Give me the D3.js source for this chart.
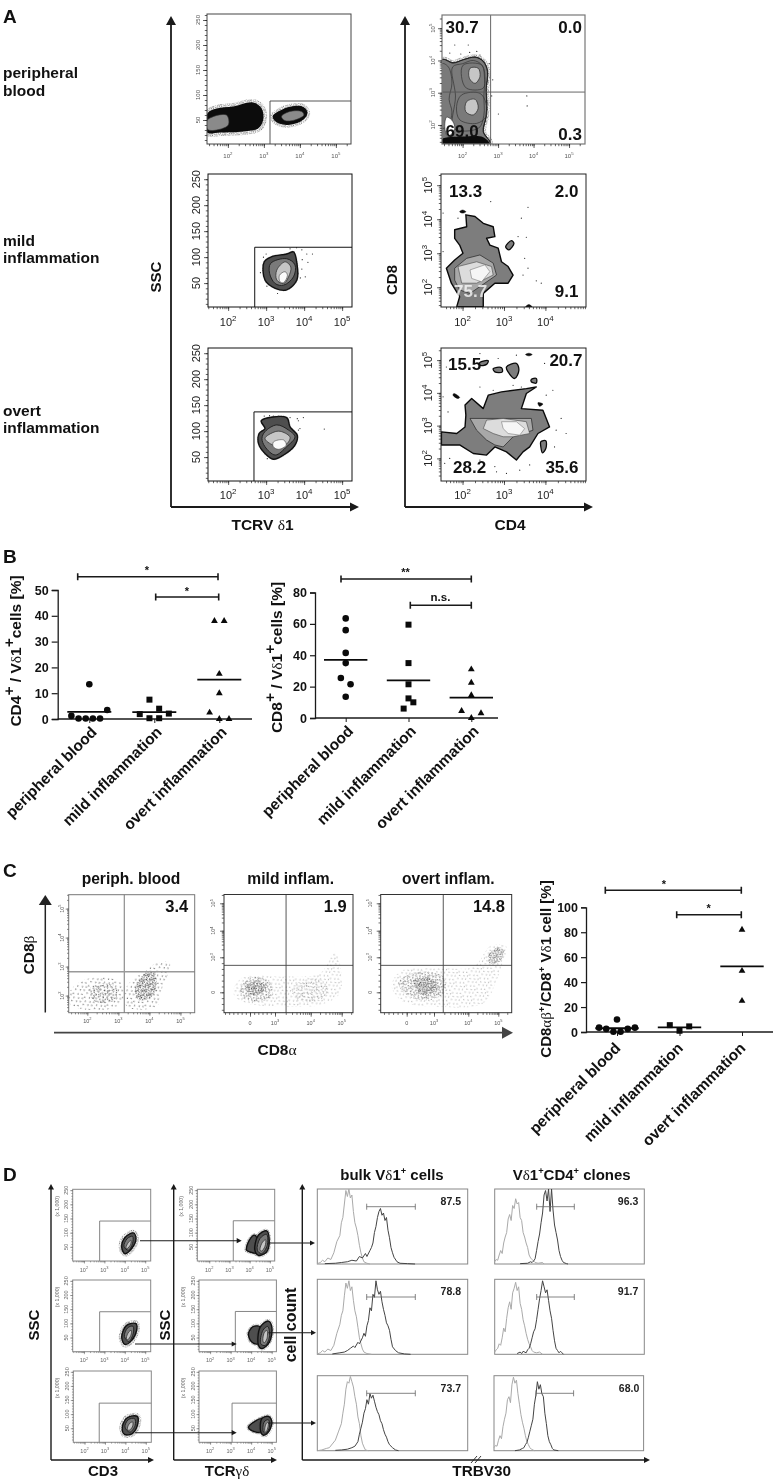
<!DOCTYPE html>
<html><head><meta charset="utf-8">
<script src="https://cdn.jsdelivr.net/npm/d3@7"></script>
<style>html,body{margin:0;padding:0;background:#fff}svg{display:block;filter:blur(.35px)}text{font-family:'Liberation Sans',Arial,sans-serif}</style>
</head><body><div id="chart"></div>
<script>
// ---------- dot-plot data (panels B and C). Each group is a list of rows; a row is drawn side by side.
const categories=['peripheral blood','mild inflammation','overt inflammation'];
const b1Peripheral=[[13.5],[1.2,0.2,0.2,0.2,0.2,3.5]];
const b1Mild=[[7.5,4],[1.9,0.3,0.3,2.1]];
const b1Overt=[[38,38],[17.5],[10],[2.5,0,0]];
const b1Means=[2.8,2.7,15.3];
const b2Peripheral=[[63.5],[56],[41.5],[35],[25.5,21.5],[13.5]];
const b2Mild=[[59.5],[35],[21.5],[12.5],[6,10]];
const b2Overt=[[31],[22.5],[14.5],[4.5,0,3]];
const b2Means=[37,24,13];
const cPeripheral=[[10],[3.5,2.5,0.2,0.2,2.5,3.5]];
const cMild=[[5.5,1,4.5]];
const cOvert=[[82],[49],[25]];
const cMeans=[3,3.7,52.7];
const b1Ticks=[0,10,20,30,40,50], b2Ticks=[0,20,40,60,80], cTicks=[0,20,40,60,80,100];

// ---------- flow cytometry percentages and region outlines
// x = log10 of fluorescence; y = SSC (linear) or log10 of fluorescence
const a4Pct=['30.7','0.0','69.0','0.3'], a5Pct=['13.3','2.0','75.7','9.1'], a6Pct=['15.5','20.7','28.2','35.6'];
const cPct=['3.4','1.9','14.8'];
const dBulkPct=['87.5','78.8','73.7'], dClonePct=['96.3','91.7','68.0'];

const a1Blob=[[1.43,63],[1.69,73],[2.15,77],[2.70,85],[2.94,73],[2.98,50],[2.84,33],[2.43,27],[1.78,25],[1.43,25]];
const a1BlobInner=[[1.43,50],[1.96,60],[2.01,40],[1.58,29],[1.43,32]];
const a1Gated=[[3.26,57],[3.44,67],[3.72,75],[4.09,75],[4.19,63],[4.05,50],[3.72,42],[3.40,45]];
const a1GatedInner=[[3.49,57],[3.72,67],[4.05,67],[4.11,60],[3.86,50],[3.58,49]];
const a2Outer=[[2.95,91],[3.15,101],[3.54,106],[3.72,110],[3.81,88],[3.81,56],[3.54,37],[3.24,40],[2.97,56]];
const a2Mid=[[3.12,88],[3.54,97],[3.76,85],[3.72,62],[3.46,46],[3.24,49],[3.09,69]];
const a2Light=[[3.28,75],[3.5,91],[3.65,81],[3.59,62],[3.46,49],[3.28,56]];
const a2Core=[[3.35,65],[3.5,72],[3.56,65],[3.46,51],[3.37,52]];
const a2Dots=[[2.93,100],[3.0,106],[3.63,116],[3.8,118],[3.94,114],[4.07,106],[4.22,106],[3.94,77],[4.03,62],[3.9,60],[3.3,30],[3.02,44],[2.85,70],[3.95,95],[4.1,90]];
const a3Outer=[[2.87,120],[3.54,126],[3.63,108],[3.82,92],[3.76,73],[3.46,54],[3.19,46],[2.97,57],[2.80,76],[2.82,96],[2.97,105]];
const a3Mid=[[2.97,99],[3.28,112],[3.59,102],[3.76,89],[3.54,70],[3.24,54],[2.97,70],[2.89,86]];
const a3Light=[[2.97,86],[3.24,99],[3.41,99],[3.63,88],[3.5,73],[3.19,73]];
const a3Core=[[3.19,79],[3.46,83],[3.53,73],[3.32,65],[3.19,70]];
const a3Dots=[[2.95,129],[3.09,130],[3.19,129],[3.32,129],[3.63,126],[3.82,124],[3.98,126],[3.85,120],[3.89,105],[3.85,102],[4.53,104],[3.03,47]];
const a4Outer=[[1.42,4.02],[1.73,3.92],[2.02,4.02],[2.35,4.10],[2.58,3.97],[2.70,3.66],[2.66,3.09],[2.68,2.67],[2.66,2.26],[2.58,1.79],[2.77,1.43],[1.42,1.43]];
const a4Inner=[[1.72,3.8],[2.0,3.9],[2.3,4.0],[2.55,3.85],[2.62,3.4],[2.6,2.9],[2.6,2.3],[2.45,1.9],[1.75,1.9],[1.8,2.9]];
const a4LeftBand=[[1.42,3.9],[1.6,3.8],[1.7,3.3],[1.62,2.8],[1.7,2.4],[1.6,2.0],[1.42,1.9]];
const a4UpperMid=[[2.02,3.86],[2.54,3.86],[2.63,3.50],[2.58,3.14],[2.11,3.14],[1.97,3.50]];
const a4UpperLight=[[2.21,3.76],[2.44,3.76],[2.49,3.50],[2.35,3.29],[2.19,3.45]];
const a4LowerMid=[[1.97,2.93],[2.49,2.98],[2.66,2.67],[2.66,2.26],[2.40,2.05],[1.92,2.16],[1.83,2.57]];
const a4LowerLight=[[2.11,2.72],[2.35,2.80],[2.44,2.52],[2.30,2.31],[2.09,2.41]];
const a4White=[[1.55,2.24],[1.69,2.16],[1.78,1.90],[1.59,1.64],[1.50,1.90]];
const a4Band=[[1.42,1.56],[2.02,1.64],[2.58,1.62],[2.75,1.43],[1.42,1.43]];
const a4Dots=[[1.78,4.48],[2.16,4.48],[1.64,4.23],[2.40,4.28],[2.49,4.17],[3.01,2.34],[3.81,2.90],[3.82,2.59],[1.95,4.2],[2.2,4.25],[2.75,3.9],[2.85,3.4],[2.82,2.9]];
const a5Outer=[[1.81,3.69],[2.10,3.78],[2.08,4.13],[2.30,4.08],[2.50,3.88],[2.74,3.78],[2.78,3.49],[2.58,3.44],[2.66,3.24],[2.86,3.15],[2.94,2.75],[3.10,2.61],[3.22,2.36],[3.10,2.12],[2.78,2.12],[2.50,1.82],[2.50,1.43],[1.86,1.43],[1.93,1.72],[1.73,2.12],[1.61,2.56],[1.81,2.80],[2.01,3.00],[1.93,3.24],[1.81,3.44]];
const a5Mid=[[1.81,2.56],[2.10,2.85],[2.42,2.95],[2.74,2.71],[2.82,2.36],[2.42,2.02],[2.18,1.82],[1.93,1.92],[1.81,2.21]];
const a5Light=[[1.89,2.61],[2.34,2.75],[2.70,2.61],[2.74,2.36],[2.34,2.12],[1.98,2.12]];
const a5Core=[[2.18,2.51],[2.54,2.66],[2.66,2.46],[2.46,2.16],[2.22,2.26]];
const a5Island1=[[1.93,4.22],[2.0,4.27],[2.08,4.22],[2.0,4.18]];
const a5Island2=[[3.04,3.19],[3.18,3.37],[3.24,3.29],[3.12,3.10]];
const a5Island3=[[3.52,1.42],[3.60,1.49],[3.68,1.42]];
const a5Dots=[[2.68,4.52],[3.58,4.35],[3.42,4.03],[3.34,3.49],[3.54,3.47],[3.50,2.85],[3.58,2.56],[3.46,2.36],[3.78,2.19],[3.90,2.12],[1.53,4.18],[1.89,4.03],[1.53,3.05]];
const a6Outer=[[2.06,3.63],[2.22,3.83],[2.50,3.52],[2.62,3.93],[2.94,4.03],[3.54,4.13],[3.78,4.18],[3.54,3.98],[3.42,3.52],[3.94,3.47],[4.02,3.22],[4.10,2.96],[3.82,2.76],[3.62,2.35],[3.46,2.20],[3.30,1.95],[3.06,2.20],[2.78,2.35],[2.58,2.10],[2.26,2.15],[1.93,2.41],[1.65,2.41],[1.49,2.41],[1.49,2.81],[1.86,2.76],[2.06,2.96],[2.08,3.32]];
const a6Mid=[[2.18,3.22],[2.94,3.22],[3.66,3.22],[3.70,2.86],[3.22,2.66],[2.98,2.35],[2.78,2.41],[2.58,2.56],[2.34,2.86]];
const a6Light=[[2.58,3.17],[2.98,3.22],[3.54,3.12],[3.62,2.76],[3.22,2.66],[2.98,2.66],[2.74,2.76],[2.50,2.91]];
const a6Core=[[2.94,3.12],[3.30,3.12],[3.50,2.91],[3.38,2.71],[3.10,2.76],[2.98,2.91]];
const a6Islands=[
 [[3.06,4.79],[3.30,4.90],[3.36,4.69],[3.26,4.44],[3.10,4.64]],
 [[2.74,4.74],[2.94,4.77],[2.96,4.64],[2.78,4.64]],
 [[2.42,4.93],[2.62,4.98],[2.58,4.87],[2.42,4.84]],
 [[3.66,4.41],[3.78,4.44],[3.78,4.30],[3.66,4.34]],
 [[3.89,2.51],[4.01,2.54],[4.01,2.30],[3.93,2.17],[3.89,2.35]]];
const a6DarkIslands=[
 [[3.52,5.17],[3.60,5.21],[3.68,5.17],[3.60,5.13]],
 [[1.79,3.98],[1.93,3.86],[1.88,3.83],[1.77,3.93]],
 [[3.82,3.70],[3.94,3.66],[3.86,3.59]]];
const a6Dots=[[1.53,3.88],[1.65,3.42],[1.93,5.05],[2.42,5.2],[2.86,5.05],[3.30,5.15],[3.98,4.9],[4.18,4.08],[4.02,3.93],[4.38,3.22],[3.22,4.23],[3.42,4.18],[2.74,4.08],[2.42,4.18],[1.61,4.79],[2.78,1.75],[2.82,1.59],[3.06,1.54],[3.38,1.64],[3.62,1.8],[1.57,1.85],[1.69,2.0],[2.42,1.95],[4.22,2.35],[4.26,2.86],[4.5,2.76]];

// panel C clouds (biexponential position units on mild / overt plots)
const c1CloudA=[[1.44,2.14],[1.76,2.48],[2.41,2.63],[3.05,2.48],[3.18,1.97],[2.84,1.57],[1.66,1.57],[1.42,1.74]];
const c1DenseA=[[2.09,2.26],[2.52,2.43],[2.95,2.26],[2.89,1.85],[2.41,1.74],[2.14,1.91]];
const c1CloudB=[[3.27,2.31],[3.81,2.83],[4.24,3.12],[4.65,3.14],[4.61,2.77],[4.35,2.08],[4.24,1.62],[3.27,1.62]];
const c1DenseB=[[3.54,2.26],[3.92,2.83],[4.13,2.83],[4.24,2.43],[4.08,1.97],[3.65,1.85]];
const c2Cloud=[[-2.0,0.2],[-0.8,1.34],[3.23,1.34],[4.30,1.63],[4.78,3.21],[4.89,3.02],[4.94,-0.09],[4.30,-1.09],[3.33,-1.23],[-0.4,-0.94],[-1.8,-0.38]];
const c2Dense=[[-1.2,0.34],[0.4,1.34],[2.4,0.91],[2.6,-0.38],[0.8,-0.8],[-0.8,-0.51]];
const c2Core=[[-0.4,0.63],[1.2,0.91],[2.0,0.34],[0.8,-0.23],[-0.2,-0.09]];
const c2Right=[[3.51,0.48],[4.19,1.2],[4.57,0.34],[4.30,-0.66],[3.61,-0.66]];
const c3Cloud=[[-1.65,0.48],[-0.74,1.77],[3.17,2.06],[4.17,2.2],[4.78,3.46],[5.28,3.4],[5.17,2.77],[4.95,1.05],[4.5,-0.94],[3.17,-1.23],[-0.37,-0.8]];
const c3Dense=[[-0.92,0.91],[1.46,1.77],[3.27,1.34],[3.32,0.05],[2.56,-0.66],[0,-0.23]];
const c3Core=[[0.73,0.91],[2.56,1.2],[3.13,0.34],[1.82,-0.23]];
const c3TopRight=[[4.67,3.09],[5.0,3.38],[5.19,3.27],[5.05,2.64],[4.72,2.5]];

// panel D gated populations
const dA1=[[3.85,49],[4.0,82],[4.42,99],[4.55,79],[4.34,44],[4.0,26]];
const dA1Mid=[[3.96,52],[4.12,79],[4.38,87],[4.38,61],[4.17,38]];
const dA1Light=[[4.06,47],[4.19,67],[4.3,73],[4.29,59],[4.12,44]];
const dA2=[[3.85,52],[4.09,93],[4.55,99],[4.58,75],[4.34,40],[4.0,26]];
const dA2Mid=[[3.98,54],[4.14,84],[4.4,90],[4.42,66],[4.2,36]];
const dA2Light=[[4.08,48],[4.2,70],[4.32,75],[4.3,58],[4.14,42]];
const dA3=[[3.85,54],[4.09,87],[4.58,92],[4.61,66],[4.34,31],[3.96,28]];
const dA3Mid=[[3.98,54],[4.14,80],[4.45,84],[4.48,60],[4.22,36]];
const dA3Light=[[4.1,50],[4.22,68],[4.36,72],[4.34,54],[4.16,42]];
const dB1Left=[[3.85,38],[3.98,73],[4.26,91],[4.43,61],[4.35,28],[4.01,32]];
const dB1=[[4.26,38],[4.43,91],[4.84,106],[4.97,73],[4.84,32],[4.43,20]];
const dB1Mid=[[4.38,38],[4.51,79],[4.84,94],[4.87,55],[4.59,26]];
const dB1Light=[[4.51,40],[4.64,67],[4.79,75],[4.76,52],[4.59,35]];
const dB2Left=[[3.87,64],[4.11,89],[4.44,87],[4.36,28],[4.03,34]];
const dB2=[[4.36,22],[4.44,87],[4.84,108],[5.01,87],[4.89,34],[4.52,11]];
const dB2Mid=[[4.47,28],[4.57,75],[4.81,89],[4.89,52],[4.68,22]];
const dB2Light=[[4.57,40],[4.65,69],[4.77,75],[4.77,46],[4.63,31]];
const dB3Left=[[3.87,54],[4.2,75],[4.52,84],[4.44,36],[3.95,45]];
const dB3=[[4.47,36],[4.52,84],[4.84,92],[5.01,72],[4.84,36],[4.6,25]];
const dB3Mid=[[4.6,36],[4.63,72],[4.84,80],[4.89,54],[4.73,33]];
const dB3Light=[[4.66,42],[4.73,66],[4.83,71],[4.81,51],[4.71,36]];

// panel D histograms: [channel, % of plot height]
const bulkIso1=[[0,0.5],[2,2],[3.5,5],[5,3],[7,8],[9,6],[11,15],[13,30],[15,38],[16,55],[17,62],[18,80],[19,98],[20,90],[21,100],[22,88],[23,92],[24,70],[25,55],[26,48],[27,38],[28,25],[29,15],[30,8],[31,3],[33,1],[35,0]];
const bulkDark1=[[5,0.5],[12,1],[16,2],[20,3],[23,5],[26,4],[28,10],[30,8],[32,14],[33,10],[35,18],[36,22],[37,28],[38,42],[39,50],[40,62],[41,70],[42,74],[43,65],[44,68],[45,58],[46,62],[47,45],[48,35],[49,22],[50,15],[51,9],[53,3],[55,1],[60,0.5],[65,0]];
const bulkIso2=[[0,0.5],[2,2],[3.5,5],[5,3],[7,7],[9,5],[11,12],[13,28],[15,40],[16,52],[17,58],[18,78],[19,95],[20,88],[21,98],[22,85],[23,90],[24,72],[25,58],[26,50],[27,36],[28,22],[29,14],[30,7],[31,3],[33,1],[36,0]];
const bulkDark2=[[10,0.5],[15,2],[18,3],[20,5],[22,8],[24,11],[25,9],[27,16],[28,14],[30,22],[31,28],[32,24],[33,38],[34,45],[35,62],[36,58],[37,80],[38,76],[39,98],[40,86],[41,80],[42,84],[43,70],[44,60],[45,52],[46,42],[47,38],[48,32],[49,20],[50,10],[52,5],[54,2],[58,0.5],[62,0]];
const bulkIso3=[[0,0],[3,1],[6,3],[8,4],[10,9],[12,14],[14,25],[16,36],[17,50],[18,62],[19,82],[20,92],[21,90],[22,99],[23,92],[24,85],[25,72],[26,62],[27,45],[28,36],[29,20],[30,10],[31,5],[32,1],[34,0]];
const bulkDark3=[[12,0.5],[16,1],[20,2],[23,4],[25,6],[26,9],[27,12],[28,22],[29,30],[30,38],[31,50],[32,56],[33,68],[34,62],[35,76],[36,70],[37,74],[38,66],[39,58],[40,52],[41,48],[42,40],[43,36],[44,28],[45,22],[46,18],[47,12],[48,8],[50,4],[52,1],[54,0]];
const cloneIso1=[[0,3],[1,6],[2,5],[3,12],[4,18],[5,14],[6,28],[7,36],[8,42],[9,60],[10,66],[11,58],[12,78],[13,74],[14,87],[15,80],[16,82],[17,62],[18,58],[19,42],[20,36],[21,28],[22,22],[23,12],[24,8],[25,6],[26,4],[27,2],[29,1],[32,2],[33,0]];
const cloneDark1=[[17,0.5],[22,1],[24,3],[25,2],[26,4],[27,7],[28,18],[29,30],[30,40],[31,55],[32,68],[33,92],[34,98],[35,84],[36,100],[37,70],[38,100],[39,72],[40,52],[41,42],[42,32],[43,18],[44,10],[45,5],[46,2],[48,0.5],[49,0]];
const cloneIso2=[[0,3],[1,6],[2,8],[3,14],[4,12],[5,22],[6,35],[7,30],[8,48],[9,62],[10,70],[11,60],[12,82],[13,88],[14,96],[15,85],[16,90],[17,68],[18,60],[19,46],[20,38],[21,28],[22,20],[23,14],[24,10],[25,5],[26,3],[28,2],[30,3],[32,0]];
const cloneDark2=[[15,1],[17,3],[18,1],[19,4],[21,2],[22,6],[23,8],[24,14],[25,22],[26,30],[27,34],[28,46],[29,60],[30,74],[31,85],[32,98],[33,90],[34,82],[35,86],[36,72],[37,58],[38,48],[39,32],[40,18],[41,8],[42,5],[43,2],[44,4],[45,2],[46,0]];
const cloneIso3=[[0,4],[1,7],[2,6],[3,14],[4,20],[5,16],[6,32],[7,42],[8,50],[9,68],[10,72],[11,64],[12,88],[13,98],[14,90],[15,94],[16,76],[17,62],[18,48],[19,38],[20,30],[21,20],[22,12],[23,8],[24,4],[25,2],[27,0]];
const cloneDark3=[[14,0],[17,1],[19,3],[20,4],[21,8],[22,11],[23,18],[24,26],[25,34],[26,42],[27,62],[28,74],[29,92],[30,82],[31,88],[32,76],[33,72],[34,50],[35,36],[36,20],[37,12],[38,8],[39,3],[40,1],[43,0]];

// ---------- drawing
const W=777,H=1483;
const svg=d3.select('#chart').append('svg').attr('width',W).attr('height',H).attr('viewBox',`0 0 ${W} ${H}`);
svg.append('rect').attr('width',W).attr('height',H).attr('fill','#fff');
const defs=svg.append('defs');
const INK='#1a1a1a';

// stipple textures for "dot cloud" regions
const tile=[[1,2],[5,1],[9,3],[3,6],[7,5],[11,7],[2,10],[6,9],[10,11],[12,1],[4,12],[8,7]];
function stipple(id,n,col,size,rot){
  const p=defs.append('pattern').attr('id',id).attr('patternUnits','userSpaceOnUse').attr('width',size).attr('height',size)
    .attr('patternTransform',`rotate(${rot})`);
  p.selectAll('rect').data(tile.slice(0,n)).join('rect')
    .attr('x',d=>d[0]*size/13).attr('y',d=>d[1]*size/13).attr('width',1).attr('height',1).attr('fill',col);
}
stipple('spPale',9,'#9a9a9a',11,17);
stipple('spMed',12,'#7c7c7c',11,23);
stipple('spDense',12,'#4c4c4c',9,31);
stipple('spCore',12,'#2e2e2e',7,11);
stipple('spBlackSparse',9,'#333',12,19);
stipple('spBlackMid',12,'#222',10,27);
stipple('spBlackDense',12,'#111',7,37);
stipple('spHalo',9,'#444',6,29);

const SANS="'Liberation Sans',Arial,sans-serif", SERIF="'Liberation Serif','DejaVu Serif',serif";
const sup=t=>({t,sup:1}), gr=t=>({t,serif:1});
function rich(sel,parts,opt={}){
  const raise=opt.raise||0.38, ss=opt.supScale||0.7;
  let up=false;
  parts.forEach(p=>{
    const o=typeof p==='string'?{t:p}:p, ts=sel.append('tspan').text(o.t);
    const fs=opt.fs;
    if(o.sup){ts.attr('font-size',fs*ss).attr('dy',up?0:-fs*raise);up=true;}
    else{ts.attr('font-size',fs);if(up){ts.attr('dy',fs*raise);up=false;}}
    if(o.serif)ts.attr('font-family',SERIF).attr('font-weight','normal');
  });
}
function label(x,y,parts,o={}){
  const t=svg.append('text').attr('text-anchor',o.anchor||'start').attr('font-weight',o.weight||'bold')
    .attr('fill',o.fill||'#111').attr('transform',`translate(${x},${y})${o.rot?` rotate(${o.rot})`:''}`);
  if(o.opacity)t.attr('opacity',o.opacity);
  rich(t,Array.isArray(parts)?parts:[parts],{fs:o.fs||15,raise:o.raise,supScale:o.supScale});
  return t;
}
function arrow(x1,y1,x2,y2,w,hl,hw,col=INK){
  const a=Math.atan2(y2-y1,x2-x1),c=Math.cos(a),s=Math.sin(a);
  svg.append('line').attr('x1',x1).attr('y1',y1).attr('x2',x2-c*hl*.6).attr('y2',y2-s*hl*.6).attr('stroke',col).attr('stroke-width',w);
  svg.append('path').attr('fill',col).attr('d',`M${x2},${y2}L${x2-c*hl-s*hw},${y2-s*hl+c*hw}L${x2-c*hl+s*hw},${y2-s*hl-c*hw}Z`);
}

let clipN=0;
const decades=(a,b)=>d3.range(Math.ceil(a),Math.floor(b)+1);
function minorLog(e0,e1){const v=[];for(let e=Math.floor(e0);e<=Math.ceil(e1);e++)for(let k=1;k<10;k++){const u=e+Math.log10(k);if(u>=e0&&u<=e1)v.push(u);}return v;}
const STY={
 stipPale:{fill:'url(#spPale)'},stipMed:{fill:'url(#spMed)'},stipDense:{fill:'url(#spDense)'},stipCore:{fill:'url(#spCore)'},
 blkSparse:{fill:'url(#spBlackSparse)'},blkMid:{fill:'url(#spBlackMid)'},blkDense:{fill:'url(#spBlackDense)'},
 black:{fill:'#0c0c0c'},greyIn:{fill:'#8a8a8a',stroke:'#333',sw:.6},
 outer:{fill:'#4e4e4e',stroke:'#111',sw:1.4},mid:{fill:'#7a7a7a',stroke:'#222',sw:1},light:{fill:'#c6c6c6',stroke:'#333',sw:.8},core:{fill:'#fbfbfb',stroke:'#444',sw:.6},
 gOuter:{fill:'#7d7d7d',stroke:'#0a0a0a',sw:1.4,linear:1},gMid:{fill:'#a8a8a8',stroke:'#222',sw:.7,linear:1},gLight:{fill:'#dcdcdc',stroke:'#444',sw:.6,linear:1},gCore:{fill:'#f6f6f6',stroke:'#666',sw:.5,linear:1},
 isl:{fill:'#7d7d7d',stroke:'#0a0a0a',sw:1.3},islDark:{fill:'#0c0c0c',stroke:'#0c0c0c',sw:.5},white:{fill:'#fff',stroke:'#222',sw:.6},
 lineOnly:{fill:'none',stroke:'#333',sw:.7}
};
function facs(c){
  const {x0,x1,y0,y1}=c;
  const xs=c.xKnots?d3.scaleLinear().domain(c.xKnots).range(c.xPx):d3.scaleLog().domain(c.xExp.map(e=>10**e)).range([x0,x1]);
  const ys=c.yKnots?d3.scaleLinear().domain(c.yKnots).range(c.yPx):c.ySSC?d3.scaleLinear().domain(c.ySSC).range([y1,y0]):d3.scaleLog().domain(c.yExp.map(e=>10**e)).range([y1,y0]);
  const fx=u=>c.xKnots?xs(u):xs(10**u), fy=v=>(c.yKnots||c.ySSC)?ys(v):ys(10**v);
  const id='clip'+(++clipN);
  defs.append('clipPath').attr('id',id).append('rect').attr('x',x0).attr('y',y0).attr('width',x1-x0).attr('height',y1-y0);
  const g=svg.append('g').attr('clip-path',`url(#${id})`);
  (c.layers||[]).forEach(([pts,kind,halo])=>{
    const s=STY[kind];
    const line=d3.line().x(d=>fx(d[0])).y(d=>fy(d[1])).curve(s.linear?d3.curveLinearClosed:d3.curveCatmullRomClosed);
    if(halo)g.append('path').attr('d',line(pts)).attr('fill','none').attr('stroke','url(#spHalo)').attr('stroke-width',halo);
    g.append('path').attr('d',line(pts)).attr('fill',s.fill).attr('stroke',s.stroke||'none').attr('stroke-width',s.sw||0).attr('stroke-linejoin','round');
  });
  if(c.dots)g.selectAll('circle.d').data(c.dots).join('circle').attr('class','d').attr('cx',d=>fx(d[0])).attr('cy',d=>fy(d[1])).attr('r',.6).attr('fill','#222');
  // gate / quadrant
  const lc=c.lineCol||'#222', lw=c.lineW||1;
  if(c.gate){const gx=fx(c.gate[0]),gy=fy(c.gate[1]);
    svg.append('path').attr('d',`M${gx},${y1}V${gy}H${x1}`).attr('fill','none').attr('stroke',lc).attr('stroke-width',lw);}
  if(c.quad){const qx=fx(c.quad[0]),qy=fy(c.quad[1]);
    svg.append('line').attr('x1',qx).attr('x2',qx).attr('y1',y0).attr('y2',y1).attr('stroke',lc).attr('stroke-width',lw);
    svg.append('line').attr('x1',x0).attr('x2',x1).attr('y1',qy).attr('y2',qy).attr('stroke',c.hLineCol||lc).attr('stroke-width',c.hLineW||lw);}
  svg.append('rect').attr('x',x0).attr('y',y0).attr('width',x1-x0).attr('height',y1-y0).attr('fill','none').attr('stroke',c.border||'#222').attr('stroke-width',c.borderW||1);

  // ticks through the library's axes
  const tc=c.tickCol||'#222', tw=c.tickW||.7, tl=c.tickLen||4, fs=c.fs||10;
  const wrapX=(vals,len)=>{const gg=svg.append('g').attr('transform',`translate(0,${y1})`).call(
      d3.axisBottom(xs).tickValues(vals.map(u=>c.xKnots?u:10**u)).tickSize(len).tickFormat(''));
    gg.select('.domain').remove();gg.selectAll('line').attr('stroke',tc).attr('stroke-width',tw);};
  const wrapY=(vals,len)=>{const gg=svg.append('g').attr('transform',`translate(${x0},0)`).call(
      d3.axisLeft(ys).tickValues(vals).tickSize(len).tickFormat(''));
    gg.select('.domain').remove();gg.selectAll('line').attr('stroke',tc).attr('stroke-width',tw);};
  const xe=c.xKnots?[c.xKnots[0],c.xKnots[c.xKnots.length-1]]:c.xExp;
  const xMinor=minorLog(Math.max(xe[0],c.xKnots?3:xe[0]),xe[1]);
  if(c.xKnots)xMinor.push(...d3.range(-3,3,.5).filter(v=>v>=xe[0]));
  wrapX(xMinor,tl*.55);
  const xMajor=c.xKnots?[0,3,4,5]:decades(xe[0],xe[1]);
  wrapX(xMajor,tl);
  let yMinor,yMajor;
  if(c.ySSC){yMinor=d3.range(10,c.ySSC[1],10);yMajor=[50,100,150,200,250];}
  else if(c.yKnots){const ye=[c.yKnots[0],c.yKnots[c.yKnots.length-1]];
    yMinor=minorLog(3,ye[1]).concat(d3.range(-1.5,3,.5));yMajor=[0,3,4,5];}
  else{yMinor=minorLog(c.yExp[0],c.yExp[1]).map(u=>10**u);yMajor=decades(c.yExp[0],c.yExp[1]).map(u=>10**u);}
  wrapY(yMinor,tl*.55);wrapY(yMajor,tl);

  // tick labels
  const lab=(t,parts)=>{rich(t,parts,{fs,raise:.45,supScale:.72});};
  const col=c.labCol||'#222';
  xMajor.forEach(u=>{
    const t=svg.append('text').attr('text-anchor','middle').attr('fill',col).attr('x',fx(u)).attr('y',y1+c.xLabOff);
    lab(t,(c.xKnots&&u===0)?['0']:['10',sup(String(u))]);
  });
  const yLabs=c.ySSC?[50,100,150,200,250]:c.yKnots?[0,3,4,5]:decades(c.yExp[0],c.yExp[1]);
  yLabs.forEach(v=>{
    const t=svg.append('text').attr('text-anchor','middle').attr('fill',col)
      .attr('transform',`translate(${x0-c.yLabOff},${fy(v)}) rotate(-90)`);
    lab(t,c.ySSC||(c.yKnots&&v===0)?[String(v)]:['10',sup(String(v))]);
  });
  if(c.thousand){svg.append('text').attr('text-anchor','middle').attr('fill',col).attr('font-size',fs*.95)
    .attr('transform',`translate(${x0-14},${y0+17}) rotate(-90)`).text('(x 1,000)');}
}

// ---------- panel A
label(3,23,'A',{fs:19});
label(3,78,'peripheral',{fs:15.5});label(3,95.5,'blood',{fs:15.5});
label(3,246,'mild',{fs:15.5});label(3,263,'inflammation',{fs:15.5});
label(3,416,'overt',{fs:15.5});label(3,433,'inflammation',{fs:15.5});
arrow(171,507,171,16,1.8,9,5);arrow(171,507,359,507,1.8,9,4.5);
arrow(405,507,405,16,1.8,9,5);arrow(405,507,593,507,1.8,9,4.5);
label(161,277,'SSC',{fs:15,rot:-90,anchor:'middle'});
label(396.5,280,'CD8',{fs:15,rot:-90,anchor:'middle'});
label(262.5,530,['TCRV ',gr('δ'),'1'],{fs:15.5,anchor:'middle'});
label(510,530,'CD4',{fs:15.5,anchor:'middle'});

facs({x0:207,x1:351,y0:14,y1:144,xExp:[1.42,5.42],ySSC:[2,262],fs:6,xLabOff:14,yLabOff:7,tickLen:4,labCol:'#555',border:'#444',gate:[3.17,88],lineCol:'#444',lineW:.9,
  layers:[[a1Blob,'black',7],[a1BlobInner,'greyIn'],[a1Gated,'outer',7],[a1Gated,'black'],[a1GatedInner,'greyIn']]});
facs({x0:208,x1:352,y0:174,y1:307,xExp:[1.47,5.26],ySSC:[4,260],fs:11,xLabOff:19,yLabOff:8,tickLen:4,gate:[2.70,119],border:'#111',lineCol:'#111',
  layers:[[a2Outer,'outer',2],[a2Mid,'mid'],[a2Light,'light'],[a2Core,'core']],dots:a2Dots});
facs({x0:208,x1:352,y0:348,y1:481,xExp:[1.47,5.26],ySSC:[4,260],fs:11,xLabOff:18,yLabOff:8,tickLen:4,gate:[2.68,137],border:'#111',lineCol:'#111',
  layers:[[a3Outer,'outer',2],[a3Mid,'mid'],[a3Light,'light'],[a3Core,'core']],dots:a3Dots});

facs({x0:442,x1:585,y0:15,y1:144,xExp:[1.42,5.45],yExp:[1.41,5.41],fs:6,xLabOff:14,yLabOff:7,labCol:'#555',border:'#777',borderW:1.2,quad:[2.79,3.02],lineCol:'#555',lineW:.9,
  layers:[[a4Outer,'outer',6],[a4Outer,'mid'],[a4Inner,'lineOnly'],[a4LeftBand,'lineOnly'],[a4UpperMid,'lineOnly'],[a4LowerMid,'lineOnly'],[a4UpperLight,'light'],[a4LowerLight,'light'],[a4White,'white'],[a4Band,'black']],dots:a4Dots});
facs({x0:441,x1:586,y0:174,y1:307,xExp:[1.48,4.98],yExp:[1.42,5.33],fs:11,xLabOff:19,yLabOff:9,border:'#222',lineCol:'#222',
  layers:[[a5Outer,'gOuter'],[a5Mid,'gMid'],[a5Light,'gLight'],[a5Core,'gCore'],[a5Island1,'islDark'],[a5Island2,'isl'],[a5Island3,'islDark']],dots:a5Dots});
facs({x0:441,x1:586,y0:348,y1:481,xExp:[1.48,4.98],yExp:[1.31,5.37],fs:11,xLabOff:18,yLabOff:9,border:'#222',lineCol:'#222',
  layers:[[a6Outer,'gOuter'],[a6Mid,'gMid'],[a6Light,'gLight'],[a6Core,'gCore'],...a6Islands.map(p=>[p,'isl']),...a6DarkIslands.map(p=>[p,'islDark'])],dots:a6Dots});

const big={fs:17};
label(445.5,33,a4Pct[0],big);label(582,33,a4Pct[1],{...big,anchor:'end'});label(445.5,137,a4Pct[2],big);label(582,140,a4Pct[3],{...big,anchor:'end'});
label(449,197,a5Pct[0],big);label(578.5,197,a5Pct[1],{...big,anchor:'end'});label(454,297,a5Pct[2],{...big,fill:'#fff',opacity:.75});label(578.5,297,a5Pct[3],{...big,anchor:'end'});
label(448,370,a6Pct[0],big);label(582.5,366,a6Pct[1],{...big,anchor:'end'});label(453,473,a6Pct[2],big);label(578.5,473,a6Pct[3],{...big,anchor:'end'});

// ---------- dot plots
const SYM={circle:[d3.symbolCircle,34],square:[d3.symbolSquare,36],triangle:[d3.symbolTriangle,20]};
function dotPlot(o){
  const y=d3.scaleLinear().domain([0,o.yMax]).range([o.yBase,o.yTop]);
  const x=d3.scalePoint().domain(categories).range(o.xRange);
  const g=svg.append('g');
  const ax=g.append('g').attr('transform',`translate(${o.xAxis[0]},0)`).call(d3.axisLeft(y).tickValues(o.ticks).tickSize(o.tickSize||6));
  ax.select('.domain').attr('stroke',INK).attr('stroke-width',1.3);
  ax.selectAll('line').attr('stroke',INK).attr('stroke-width',1.2);
  ax.selectAll('text').attr('font-family',SANS).attr('font-weight','bold').attr('font-size',12.5).attr('fill','#111');
  const bx=g.append('g').attr('transform',`translate(0,${o.yBase})`).call(d3.axisBottom(x).tickSize(4));
  bx.select('.domain').remove();
  bx.selectAll('line').attr('stroke',INK).attr('stroke-width',1);
  bx.selectAll('text').attr('font-family',SANS).attr('font-weight','bold').attr('font-size',15.5).attr('fill','#111')
    .attr('text-anchor','end').attr('x',0).attr('y',0).attr('dy',0).attr('transform',`translate(${o.labDx},${o.labDy}) rotate(-45)`);
  g.append('line').attr('x1',o.xAxis[0]).attr('x2',o.xAxis[1]).attr('y1',o.yBase).attr('y2',o.yBase).attr('stroke',INK).attr('stroke-width',1.3);
  const groups=o.groups, kinds=['circle','square','triangle'];
  groups.forEach((rows,i)=>{
    const cx=x(categories[i]), sym=d3.symbol().type(SYM[kinds[i]][0]).size(SYM[kinds[i]][1]);
    rows.forEach(row=>{
      const step=Math.min(9.7,43/row.length);
      g.append('g').selectAll('path').data(row).join('path').attr('d',sym).attr('fill','#0a0a0a')
        .attr('transform',(v,j)=>`translate(${cx+(j-(row.length-1)/2)*step},${y(v)})`);
    });
    g.append('line').attr('x1',cx-o.meanHalf).attr('x2',cx+o.meanHalf).attr('y1',y(o.means[i])).attr('y2',y(o.means[i])).attr('stroke','#0a0a0a').attr('stroke-width',1.8);
  });
  o.brackets.forEach(([a,b,yy,txt,tx,ty,fz])=>{
    g.append('path').attr('d',`M${a},${yy-3.5}V${yy+3.5}M${a},${yy}H${b}M${b},${yy-3.5}V${yy+3.5}`).attr('fill','none').attr('stroke',INK).attr('stroke-width',1.6);
    g.append('text').attr('x',tx).attr('y',ty).attr('text-anchor','middle').attr('font-weight','bold').attr('font-size',fz||11).attr('fill','#111').text(txt);
  });
}
label(3,563,'B',{fs:19});
dotPlot({yMax:50,yBase:719,yTop:590,xRange:[89.3,219.3],xAxis:[57.7,252],ticks:b1Ticks,groups:[b1Peripheral,b1Mild,b1Overt],means:b1Means,meanHalf:22,labDx:8,labDy:14,
  brackets:[[77.7,218,576.7,'*',147,574],[155.7,218.7,597,'*',187,595]]});
dotPlot({yMax:80,yBase:718,yTop:592.5,xRange:[345.7,471.3],xAxis:[315,498],ticks:b2Ticks,tickSize:5,groups:[b2Peripheral,b2Mild,b2Overt],means:b2Means,meanHalf:21.7,labDx:8,labDy:14,
  brackets:[[341,471.3,579,'**',405.5,576],[410.3,471.3,605.3,'n.s.',440.5,601,11.5]]});
label(20.5,651,['CD4',sup('+'),' / V',gr('δ'),'1',sup('+'),'cells [%]'],{fs:15.5,rot:-90,anchor:'middle',supScale:1,raise:.42});
label(281.5,657.5,['CD8',sup('+'),' / V',gr('δ'),'1',sup('+'),'cells [%]'],{fs:15.5,rot:-90,anchor:'middle',supScale:1,raise:.42});

// ---------- panel C
label(3,877,'C',{fs:19});
label(131,884,'periph. blood',{fs:15.6,anchor:'middle'});label(290.7,884,'mild inflam.',{fs:15.6,anchor:'middle'});label(448.3,884,'overt inflam.',{fs:15.6,anchor:'middle'});
arrow(45.3,1012.5,45.3,895,1.5,10,6.5,'#222');
arrow(54,1032.7,513,1032.7,1.8,11,6,'#444');
label(34,955,['CD8',gr('β')],{fs:15.5,rot:-90,anchor:'middle'});
label(277,1055,['CD8',gr('α')],{fs:15.5,anchor:'middle'});
facs({x0:68.7,x1:194.7,y0:894.7,y1:1012.7,xExp:[1.40,5.46],yExp:[1.41,5.48],fs:5.5,xLabOff:10,yLabOff:5,tickLen:3,labCol:'#555',tickCol:'#555',border:'#777',quad:[3.19,2.82],lineCol:'#666',lineW:.9,hLineCol:'#999',hLineW:1.6,
  layers:[[c1CloudA,'blkSparse'],[c1DenseA,'blkMid'],[c1CloudB,'blkSparse'],[c1DenseB,'blkDense']]});
const cY={yKnots:[-1.75,0,3,4,5,5.31],yPx:[1012.7,992.3,957.3,930.7,903.3,894.7]};
facs({x0:224,x1:353,y0:894.5,y1:1012.7,xKnots:[-3.12,0,3,4,5,5.36],xPx:[224,250,275,310.7,341.7,353],...cY,fs:5.5,xLabOff:12,yLabOff:9,tickLen:4,labCol:'#555',tickCol:'#333',border:'#333',quad:[3.31,2.31],lineCol:'#444',lineW:.9,
  layers:[[c2Cloud,'stipPale'],[c2Right,'stipMed'],[c2Dense,'stipDense'],[c2Core,'stipCore']]});
facs({x0:380.7,x1:511.7,y0:894.5,y1:1012.7,xKnots:[-2.86,0,3,4,5,5.45],xPx:[380.7,406.7,434,468.3,498.3,511.7],...cY,fs:5.5,xLabOff:12,yLabOff:9,tickLen:4,labCol:'#555',tickCol:'#333',border:'#333',quad:[3.27,2.31],lineCol:'#444',lineW:.9,
  layers:[[c3Cloud,'stipPale'],[c3Dense,'stipDense'],[c3Core,'stipCore'],[c3TopRight,'stipCore']]});
label(188.3,911.5,cPct[0],{fs:16.5,anchor:'end'});label(346.7,911.5,cPct[1],{fs:16.5,anchor:'end'});label(505,911.5,cPct[2],{fs:16.5,anchor:'end'});
dotPlot({yMax:100,yBase:1032,yTop:907.3,xRange:[617,742],xAxis:[586,773],ticks:cTicks,tickSize:5,groups:[cPeripheral,cMild,cOvert],means:cMeans,meanHalf:21.7,labDx:4,labDy:17,
  brackets:[[605.3,741.3,890.3,'*',664,887.5],[676.7,741.3,914.7,'*',708.7,911.5]]});
label(550.5,969,['CD8',gr('αβ'),sup('+'),'/CD8',sup('+'),' V',gr('δ'),'1 cell [%]'],{fs:15,rot:-90,anchor:'middle',supScale:.65});

// ---------- panel D
label(3,1181,'D',{fs:19});
arrow(51,1460,51,1184,1.4,5.5,3);arrow(51,1460,154,1460,1.4,6,3);
arrow(173.7,1460,173.7,1184,1.4,5.5,3);arrow(173.7,1460,277,1460,1.4,6,3);
arrow(302.3,1460,302.3,1184,1.4,5.5,3);arrow(302.3,1460,650,1460,1.4,6,3);
svg.append('path').attr('d','M471,1463L477,1456M475,1463L481,1456').attr('stroke','#222').attr('stroke-width',.9).attr('fill','none');
label(39,1325,'SSC',{fs:15,rot:-90,anchor:'middle'});label(169.5,1325,'SSC',{fs:15,rot:-90,anchor:'middle'});
label(296,1325,'cell count',{fs:16,rot:-90,anchor:'middle'});
label(103,1476,'CD3',{fs:15,anchor:'middle'});label(227,1476,['TCR',gr('γδ')],{fs:15,anchor:'middle'});label(481.7,1476,'TRBV30',{fs:15.3,anchor:'middle'});
label(392,1180,['bulk V',gr('δ'),'1',sup('+'),' cells'],{fs:15,anchor:'middle',supScale:.62});
label(571.7,1180,['V',gr('δ'),'1',sup('+'),'CD4',sup('+'),' clones'],{fs:15,anchor:'middle',supScale:.62});

const rowsY=[[1189.3,1261],[1280,1351.7],[1371,1442.3]];
const dOpts={ySSC:[0,253],fs:5.5,xLabOff:10.5,yLabOff:4.5,tickLen:2.5,labCol:'#666',tickCol:'#666',tickW:.6,border:'#888',lineCol:'#777',lineW:.9,thousand:true};
[[dA1,dA1Mid,dA1Light,141,2.77,72.7],[dA2,dA2Mid,dA2Light,141,2.77,72.7],[dA3,dA3Mid,dA3Light,139,2.72,73.3]].forEach((r,i)=>{
  facs({...dOpts,x0:r[5],x1:r[5]+78,y0:rowsY[i][0],y1:rowsY[i][1],xExp:[1.45,5.27],gate:[r[4],r[3]],
    layers:[[r[0],'outer',6],[r[1],'mid'],[r[2],'light']]});
});
[[dB1Left,dB1,dB1Mid,dB1Light,142,3.19,197.3,[1.41,5.24]],[dB2Left,dB2,dB2Mid,dB2Light,142,3.23,199,[1.46,5.23]],[dB3Left,dB3,dB3Mid,dB3Light,139,3.07,199,[1.46,5.23]]].forEach((r,i)=>{
  facs({...dOpts,x0:r[6],x1:r[6]+77.4,y0:rowsY[i][0],y1:rowsY[i][1],xExp:r[7],gate:[r[5],r[4]],
    layers:[[r[0],'outer',4],[r[1],'outer',4],[r[2],'mid'],[r[3],'light']]});
});
// arrows between rows
arrow(140,1240.7,241.7,1240.7,1.1,5,2.6);arrow(268,1243,315,1243,1.1,5,2.6);
arrow(135,1344,236.7,1344,1.1,5,2.6);arrow(268.3,1332.7,316,1332.7,1.1,5,2.6);
arrow(135,1432.7,236.7,1432.7,1.1,5,2.6);arrow(268,1423,316,1423,1.1,5,2.6);

// histograms
const histRows=[[1189,1264],[1279.3,1354.3],[1375.7,1450.7]];
function hist(x0,x1,row,iso,dark,pct,gate,gy,txtX,ty){
  const [y0,y1]=histRows[row];
  const x=d3.scaleLinear().domain([0,100]).range([x0,x1]), y=d3.scaleLinear().domain([0,100]).range([y1,y0]);
  const line=d3.line().x(d=>x(d[0])).y(d=>y(d[1]));
  svg.append('rect').attr('x',x0).attr('y',y0).attr('width',x1-x0).attr('height',y1-y0).attr('fill','none').attr('stroke','#888').attr('stroke-width',1);
  svg.append('path').attr('d',line(iso)).attr('fill','none').attr('stroke','#aaa').attr('stroke-width',1);
  svg.append('path').attr('d',line(dark)).attr('fill','none').attr('stroke','#444').attr('stroke-width',1);
  svg.append('path').attr('d',`M${gate[0]},${gy-3}V${gy+3}M${gate[0]},${gy}H${gate[1]}M${gate[1]},${gy-3}V${gy+3}`).attr('fill','none').attr('stroke','#666').attr('stroke-width',.8);
  label(txtX,ty,pct,{fs:10.5,anchor:'end',fill:'#222'});
}
const gateRows=[1206.7,1297,1393.3], pctY=[1205,1295,1392];
const bulkIso=[bulkIso1,bulkIso2,bulkIso3], bulkDark=[bulkDark1,bulkDark2,bulkDark3];
const cloneIso=[cloneIso1,cloneIso2,cloneIso3], cloneDark=[cloneDark1,cloneDark2,cloneDark3];
[0,1,2].forEach(r=>{
  hist(317.3,467.7,r,bulkIso[r],bulkDark[r],dBulkPct[r],[366.7,415.3],gateRows[r],461,pctY[r]);
  const xo=r===2?-0.7:0;
  hist(494.7+xo,644.3+xo,r,cloneIso[r],cloneDark[r],dClonePct[r],[536.7+xo,574.3+xo],gateRows[r],638.3+(r===2?1:0),pctY[r]);
});
</script></body></html>
